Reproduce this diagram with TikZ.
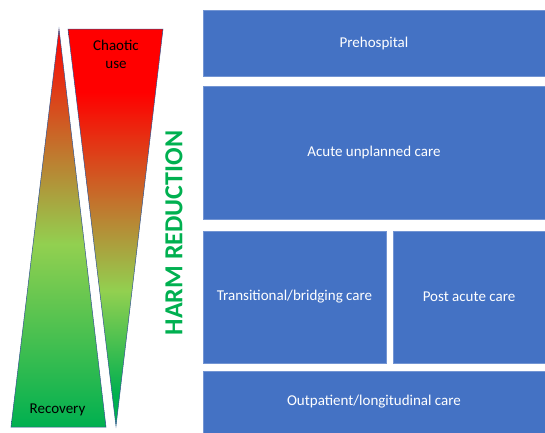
\documentclass[tikz,border=0pt]{standalone}
\usepackage{fontspec}
\setmainfont{Carlito}

\definecolor{careblue}{HTML}{4472C4}
\definecolor{edgeblue}{HTML}{2F528F}
\definecolor{harmgreen}{HTML}{00B050}
\definecolor{limegreen}{HTML}{92D050}
\definecolor{chaosred}{HTML}{FF0000}

% red at the top, green at the bottom
\pgfdeclareverticalshading{recoveryshade}{100bp}{color(0bp)=(harmgreen); color(25bp)=(harmgreen); color(48bp)=(limegreen); color(75bp)=(chaosred); color(100bp)=(chaosred)}
\pgfdeclareverticalshading{chaosshade}{100bp}{color(0bp)=(harmgreen); color(29bp)=(harmgreen); color(42bp)=(limegreen); color(67bp)=(chaosred); color(100bp)=(chaosred)}

\tikzset{
  carebox/.style={draw=careblue!75!white, line width=0.6pt, fill=careblue,
    text=white, font=\fontsize{15}{18}\selectfont, inner sep=0pt},
  wedge/.style={draw=edgeblue, line width=0.5pt},
}

\begin{document}
\begin{tikzpicture}[x=1pt, y=-1pt]

    \useasboundingbox (0, 0) rectangle (545, 432);

    % the two wedges
    \shadedraw[wedge, shading=recoveryshade] (59, 29) -- (106, 427) -- (11, 427) -- cycle;
    \shadedraw[wedge, shading=chaosshade] (68, 29) -- (163, 29) -- (116, 426) -- cycle;

    \node (chaotic) at (116, 54.5) [align=center, font=\fontsize{15}{18}\selectfont] {Chaotic\\use};
    \node (recovery) at (57.5, 413) [anchor=base, font=\fontsize{15}{18}\selectfont] {Recovery};

    \node (harm) at (174, 233) [rotate=90, text=harmgreen, font=\bfseries\fontsize{26}{30}\selectfont] {HARM REDUCTION};

    % settings of care
    \node[carebox, minimum width=342, minimum height=66] (pre) at (374, 43) {Prehospital};
    \node[carebox, minimum width=342, minimum height=133] (acute) at (374, 152.5) {Acute unplanned care};
    \node[carebox, minimum width=183, minimum height=132] (trans) at (294.5, 297) {Transitional/bridging care};
    \node[carebox, minimum width=152, minimum height=132] (post) at (469, 297) {Post acute care};
    \node[carebox, minimum width=342, minimum height=62] (outpt) at (374, 402) {Outpatient/longitudinal care};

\end{tikzpicture}
\end{document}
